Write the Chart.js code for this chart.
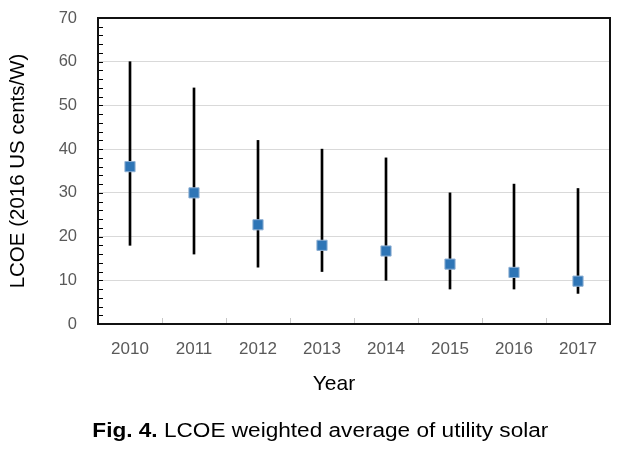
<!DOCTYPE html>
<html>
<head>
<meta charset="utf-8">
<script src="https://cdn.jsdelivr.net/npm/chart.js@4/dist/chart.umd.min.js"></script>
<style>
  html, body { margin: 0; padding: 0; background: #fff; }
  #wrap { position: relative; width: 630px; height: 449px; overflow: hidden; }
  #box { position: absolute; left: 0; top: 0; width: 630px; height: 449px; }
  .txt { position: absolute; font-family: "Liberation Sans", Arial, sans-serif; color: #000; white-space: nowrap; }
  #xtitle { left: 234px; width: 200px; top: 371px; text-align: center; font-size: 21px; }
  #caption { left: 6px; top: 419px; width: 630px; text-align: center; font-size: 20px; transform: scaleX(1.13); transform-origin: 320px 0; }
</style>
</head>
<body>
<div id="wrap">
  <div id="box"><canvas id="c"></canvas></div>
  <div id="xtitle" class="txt">Year</div>
  <div id="caption" class="txt"><b>Fig. 4.</b> LCOE weighted average of utility solar</div>
</div>
<script>
const years = ['2010', '2011', '2012', '2013', '2014', '2015', '2016', '2017'];
const average = [36, 30, 22.7, 18, 16.7, 13.7, 11.8, 9.8];
const low = [18, 16, 13, 12, 10, 8, 8, 7];
const high = [60, 54, 42, 40, 38, 30, 32, 31];
const yTicks = [0, 10, 20, 30, 40, 50, 60, 70];

const FONT = '"Liberation Sans", Arial, sans-serif';

const frame = {
  id: 'frame',
  afterDraw(chart) {
    const { ctx, chartArea: a, scales } = chart;
    const y = scales.y, x = scales.x;
    ctx.save();
    ctx.strokeStyle = '#000';
    ctx.lineWidth = 1;
    for (let v = yTicks[0]; v <= yTicks[yTicks.length - 1]; v += 2) {
      const py = Math.round(y.getPixelForValue(v)) + 0.5;
      ctx.beginPath();
      ctx.moveTo(a.left, py);
      ctx.lineTo(a.left + 5, py);
      ctx.stroke();
    }
    ctx.strokeStyle = '#c8c8c8';
    for (let i = 1; i < years.length; i++) {
      const px = Math.round((x.getPixelForValue(i - 1) + x.getPixelForValue(i)) / 2) + 0.5;
      ctx.beginPath();
      ctx.moveTo(px, a.bottom);
      ctx.lineTo(px, a.bottom - 6);
      ctx.stroke();
    }
    ctx.strokeStyle = '#111';
    ctx.lineWidth = 2;
    ctx.strokeRect(a.left, a.top, a.right - a.left, a.bottom - a.top);
    ctx.restore();
  }
};

new Chart(document.getElementById('c'), {
  data: {
    labels: years,
    datasets: [
      {
        type: 'line',
        label: 'Weighted average',
        data: average,
        showLine: false,
        pointStyle: 'rect',
        pointRadius: 7.2,
        pointHoverRadius: 7.2,
        backgroundColor: '#2e75b6',
        borderColor: '#8fb0d4',
        borderWidth: 1,
        order: 0
      },
      {
        type: 'bar',
        label: 'Range',
        data: low.map((l, i) => [l, high[i]]),
        backgroundColor: '#000',
        barThickness: 2,
        order: 1
      }
    ]
  },
  options: {
    responsive: true,
    maintainAspectRatio: false,
    animation: false,
    events: [],
    layout: { padding: { left: 0, right: 20, top: 18, bottom: 0 } },
    plugins: { legend: { display: false }, tooltip: { enabled: false } },
    scales: {
      x: {
        type: 'category',
        offset: true,
        grid: { display: false, drawTicks: false },
        border: { display: false },
        ticks: { color: '#595959', font: { family: FONT, size: 17 }, padding: 15 },
        afterFit(s) { s.height = 125; }
      },
      y: {
        min: 0, max: 70,
        ticks: { stepSize: 10, color: '#595959', font: { family: FONT, size: 16.5 }, padding: 2 },
        grid: { color: '#d9d9d9', drawTicks: true, tickLength: 19, tickColor: 'rgba(0,0,0,0)', lineWidth: 1 },
        border: { display: false },
        title: { display: true, text: 'LCOE (2016 US cents/W)', color: '#000', font: { family: FONT, size: 20.5 }, padding: { top: 6, bottom: 0 } },
        afterFit(s) { s.width = 98; }
      }
    }
  },
  plugins: [frame]
});
</script>
</body>
</html>
